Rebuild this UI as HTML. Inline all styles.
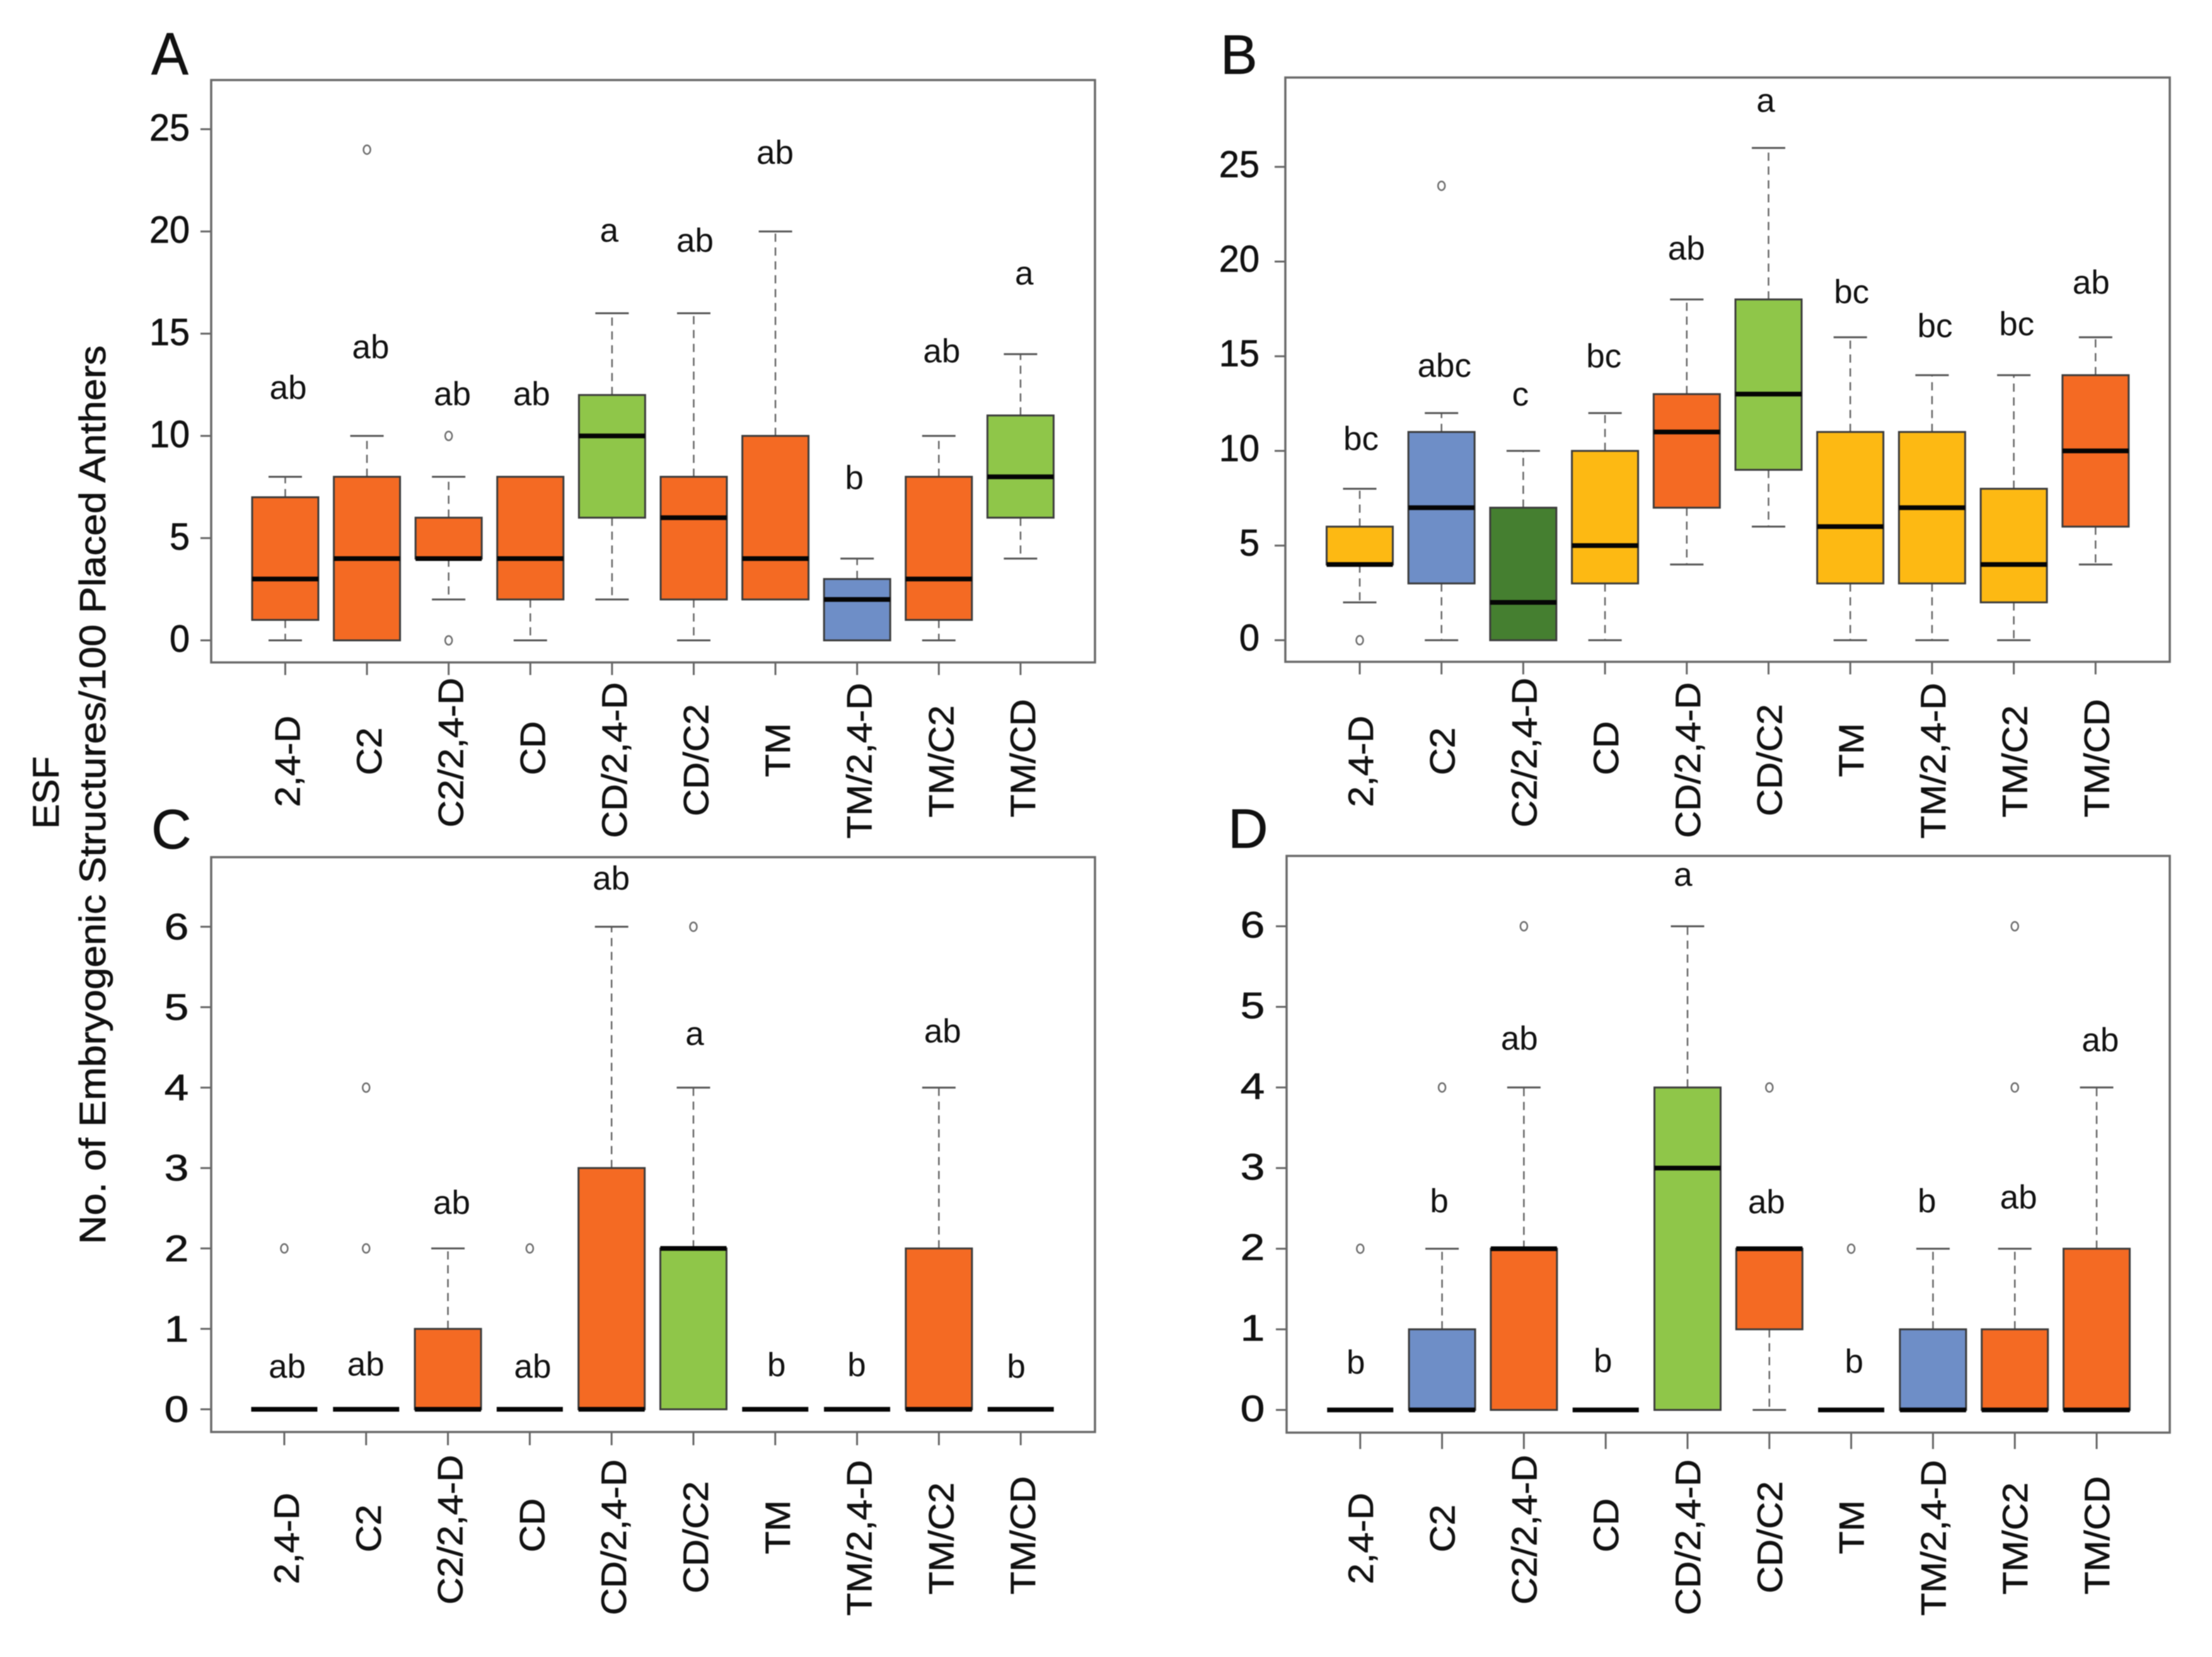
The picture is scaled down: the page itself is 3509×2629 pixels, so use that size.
<!DOCTYPE html>
<html lang="en">
<head>
<meta charset="utf-8">
<title>ESF embryogenic structures boxplots</title>
<style>
html,body{margin:0;padding:0;background:#fff;}
svg{display:block;filter:blur(0.7px);}
text{font-family:"Liberation Sans",sans-serif;fill:#111;stroke:#111;stroke-width:0.7px;}
</style>
</head>
<body>
<svg id="figure" xmlns="http://www.w3.org/2000/svg" width="3509" height="2629" viewBox="0 0 3509 2629">
<rect width="3509" height="2629" fill="#ffffff"/>
<text transform="translate(93,1257.5) rotate(-90)" text-anchor="middle" font-size="58" textLength="115" lengthAdjust="spacingAndGlyphs">ESF</text>
<text transform="translate(167,1261) rotate(-90)" text-anchor="middle" font-size="58" textLength="1426" lengthAdjust="spacingAndGlyphs">No. of Embryogenic Structures/100 Placed Anthers</text>
<text transform="translate(240,118) scale(0.97,1.04)" font-size="91">A</text>
<text x="1936" y="117" font-size="88">B</text>
<text x="240" y="1346" font-size="88">C</text>
<text x="1948" y="1345" font-size="88">D</text>
</svg>
<script>
const categories = ['2,4-D','C2','C2/2,4-D','CD','CD/2,4-D','CD/C2','TM','TM/2,4-D','TM/C2','TM/CD'];
const ticksLarge = [0,5,10,15,20,25];
const ticksSmall = [0,1,2,3,4,5,6];

const aLow     = [0,0,2,0,2,0,2,0,0,4];
const aQ1      = [1,0,4,2,6,2,2,0,1,6];
const aMedian  = [3,4,4,4,10,6,4,2,3,8];
const aQ3      = [7,8,6,8,12,8,10,3,8,11];
const aHigh    = [8,10,8,8,16,16,20,4,10,14];
const aOutliers = [[],[24],[10,0],[],[],[],[],[],[],[]];
const aGroups  = ['orange','orange','orange','orange','green','orange','orange','blue','orange','green'];
const aLetters = ['ab','ab','ab','ab','a','ab','ab','b','ab','a'];
const aLetterLevels = [11.8,13.8,11.5,11.5,19.5,19.0,23.3,7.4,13.6,17.4];
const aLetterSlots = [0.02,0.03,0.03,0,-0.05,0,-0.02,-0.05,0.02,0.03];

const bLow     = [2,0,0,0,4,6,0,0,0,4];
const bQ1      = [4,3,0,3,7,9,3,3,2,6];
const bMedian  = [4,7,2,5,11,13,6,7,4,10];
const bQ3      = [6,11,7,10,13,18,11,11,8,14];
const bHigh    = [8,12,10,12,18,26,16,14,14,16];
const bOutliers = [[0],[24],[],[],[],[],[],[],[],[]];
const bGroups  = ['yellow','blue','darkgreen','yellow','orange','green','yellow','yellow','yellow','orange'];
const bLetters = ['bc','abc','c','bc','ab','a','bc','bc','bc','ab'];
const bLetterLevels = [10.05,13.9,12.4,14.4,20.1,27.9,17.8,16.0,16.1,18.3];
const bLetterSlots = [0,0.02,-0.05,-0.03,-0.02,-0.05,0,0.02,0.02,-0.07];

const cLow     = [0,0,0,0,0,0,0,0,0,0];
const cQ1      = [0,0,0,0,0,0,0,0,0,0];
const cMedian  = [0,0,0,0,0,2,0,0,0,0];
const cQ3      = [0,0,1,0,3,2,0,0,2,0];
const cHigh    = [0,0,2,0,6,4,0,0,4,0];
const cOutliers = [[2],[4,2],[],[2],[],[6],[],[],[],[]];
const cGroups  = ['orange','orange','orange','orange','orange','green','orange','orange','orange','orange'];
const cLetters = ['ab','ab','ab','ab','ab','a','b','b','ab','b'];
const cLetterLevels = [0.39,0.42,2.43,0.39,6.46,4.53,0.41,0.41,4.56,0.39];
const cLetterSlots = [0.02,-0.02,0.03,0.02,-0.02,0,0,-0.02,0.03,-0.07];

const dLow     = [0,0,0,0,0,0,0,0,0,0];
const dQ1      = [0,0,0,0,0,1,0,0,0,0];
const dMedian  = [0,0,2,0,3,2,0,0,0,0];
const dQ3      = [0,1,2,0,4,2,0,1,1,2];
const dHigh    = [0,2,4,0,6,2,0,2,2,4];
const dOutliers = [[2],[4],[6],[],[],[4],[2],[],[4,6],[]];
const dGroups  = ['orange','blue','orange','orange','green','orange','orange','blue','orange','orange'];
const dLetters = ['b','b','ab','b','a','ab','b','b','ab','ab'];
const dLetterLevels = [0.45,2.45,4.47,0.47,6.5,2.44,0.46,2.45,2.5,4.45];
const dLetterSlots = [-0.07,-0.05,-0.07,-0.05,-0.07,-0.05,0.02,-0.09,0.03,0.03];

const groupFill = {orange:'#f46a23',green:'#8fc649',blue:'#6e8ec7',yellow:'#fdb913',darkgreen:'#457f30'};
const labelNudge = {'2,4-D':4,'C2':-12,'C2/2,4-D':-10,'CD':-17,'CD/2,4-D':2,'CD/C2':2,'TM':-14,'TM/2,4-D':3,'TM/C2':4,'TM/CD':-1};

const SVGNS = 'http://www.w3.org/2000/svg';
const figure = document.getElementById('figure');

function shape(parent, tag, attrs) {
  const el = document.createElementNS(SVGNS, tag);
  for (const k in attrs) el.setAttribute(k, attrs[k]);
  parent.appendChild(el);
  return el;
}

function drawPanel(id, frame, series) {
  const yScale = v => frame.zero - v * frame.unit;
  const xScale = i => frame.x0 + i * frame.step;
  const boxW = 105, capW = 53;

  const g = shape(figure, 'g', {});
  
  

  const border = shape(g, 'rect', {x:frame.left, y:frame.top, width:frame.right-frame.left, height:frame.bottom-frame.top, fill:'none', stroke:'#6a6a6a', 'stroke-width':3.5});
  
  

  series.ticks.forEach(t => {
    const y = yScale(t);
    const tick = shape(g, 'line', {x1:frame.left-17, x2:frame.left, y1:y, y2:y, stroke:'#666', 'stroke-width':3});
    
    
    const label = shape(g, 'text', {'font-size':frame.tickFont});
    const lx = frame.tickLabelX, ly = y + frame.tickBaseline;
    label.setAttribute('transform', 'translate(' + lx + ',' + ly + ') scale(' + frame.tickStretch + ',1)');
    label.setAttribute('text-anchor', frame.tickAnchor);
    label.textContent = t;
    
    
  });

  categories.forEach((cat, i) => {
    const x = xScale(i);
    const tick = shape(g, 'line', {x1:x, x2:x, y1:frame.bottom, y2:frame.bottom+frame.tickLen, stroke:'#666', 'stroke-width':3});
    
    
    const label = shape(g, 'text', {'font-size':56, 'text-anchor':'middle'});
    label.setAttribute('transform', 'translate(' + (x+frame.labelGap) + ',' + (frame.labelCenter + labelNudge[cat]) + ') rotate(-90) scale(1.06,1)');
    label.textContent = cat;
    
    

    const group = shape(g, 'g', {});
    
    

    const yLow = yScale(series.low[i]), yQ1 = yScale(series.q1[i]), yMed = yScale(series.median[i]), yQ3 = yScale(series.q3[i]), yHigh = yScale(series.high[i]);

    if (series.high[i] > series.q3[i]) {
      const up = shape(group, 'line', {x1:x, x2:x, y1:yQ3, y2:yHigh, stroke:'#666', 'stroke-width':2.5, 'stroke-dasharray':'13 9'});
      
      
      const cap = shape(group, 'line', {x1:x-capW/2, x2:x+capW/2, y1:yHigh, y2:yHigh, stroke:'#555', 'stroke-width':3});
      
      
    }
    if (series.low[i] < series.q1[i]) {
      const down = shape(group, 'line', {x1:x, x2:x, y1:yQ1, y2:yLow, stroke:'#666', 'stroke-width':2.5, 'stroke-dasharray':'13 9'});
      
      
      const cap = shape(group, 'line', {x1:x-capW/2, x2:x+capW/2, y1:yLow, y2:yLow, stroke:'#555', 'stroke-width':3});
      
      
    }
    if (series.q3[i] > series.q1[i]) {
      const box = shape(group, 'rect', {x:x-boxW/2, y:yQ3, width:boxW, height:yQ1-yQ3, fill:groupFill[series.groups[i]], stroke:'#3c3c3c', 'stroke-width':3});
      
      
    }
    const med = shape(group, 'line', {x1:x-boxW/2, x2:x+boxW/2, y1:yMed, y2:yMed, stroke:'#050505', 'stroke-width':7.5});
    
    

    series.outliers[i].forEach(v => {
      const o = shape(group, 'ellipse', {cx:x, cy:yScale(v), rx:5.5, ry:7, fill:'#fff', stroke:'#6e6e6e', 'stroke-width':2.5});
      
      
    });

    const sig = shape(g, 'text', {x:xScale(i + series.slots[i]) + 2, y:yScale(series.levels[i]), 'font-size':53, 'text-anchor':'middle'});
    sig.setAttribute('style', 'stroke-width:0;');
    sig.textContent = series.letters[i];
    
    
  });
}

drawPanel('a',
  {left:335,top:127,right:1737,bottom:1051,zero:1016,unit:32.44,x0:452.5,step:129.6,tickLen:20,labelGap:23,labelCenter:1204,tickFont:60,tickStretch:0.96,tickAnchor:'end',tickLabelX:301,tickBaseline:18},
  {ticks:ticksLarge,low:aLow,q1:aQ1,median:aMedian,q3:aQ3,high:aHigh,outliers:aOutliers,groups:aGroups,letters:aLetters,levels:aLetterLevels,slots:aLetterSlots});

drawPanel('b',
  {left:2039,top:123,right:3442,bottom:1050,zero:1015.8,unit:30.04,x0:2157,step:129.7,tickLen:20,labelGap:21,labelCenter:1204,tickFont:59,tickStretch:0.98,tickAnchor:'end',tickLabelX:1998,tickBaseline:16},
  {ticks:ticksLarge,low:bLow,q1:bQ1,median:bMedian,q3:bQ3,high:bHigh,outliers:bOutliers,groups:bGroups,letters:bLetters,levels:bLetterLevels,slots:bLetterSlots});

drawPanel('c',
  {left:335,top:1360,right:1737,bottom:2272,zero:2236,unit:127.6,x0:451,step:129.8,tickLen:21,labelGap:23,labelCenter:2437,tickFont:58,tickStretch:1.2,tickAnchor:'middle',tickLabelX:280,tickBaseline:20},
  {ticks:ticksSmall,low:cLow,q1:cQ1,median:cMedian,q3:cQ3,high:cHigh,outliers:cOutliers,groups:cGroups,letters:cLetters,levels:cLetterLevels,slots:cLetterSlots});

drawPanel('d',
  {left:2041,top:1358,right:3442,bottom:2273,zero:2237,unit:127.9,x0:2157.8,step:129.8,tickLen:26,labelGap:20,labelCenter:2437,tickFont:58,tickStretch:1.2,tickAnchor:'middle',tickLabelX:1987,tickBaseline:18},
  {ticks:ticksSmall,low:dLow,q1:dQ1,median:dMedian,q3:dQ3,high:dHigh,outliers:dOutliers,groups:dGroups,letters:dLetters,levels:dLetterLevels,slots:dLetterSlots});
</script>
</body>
</html>
